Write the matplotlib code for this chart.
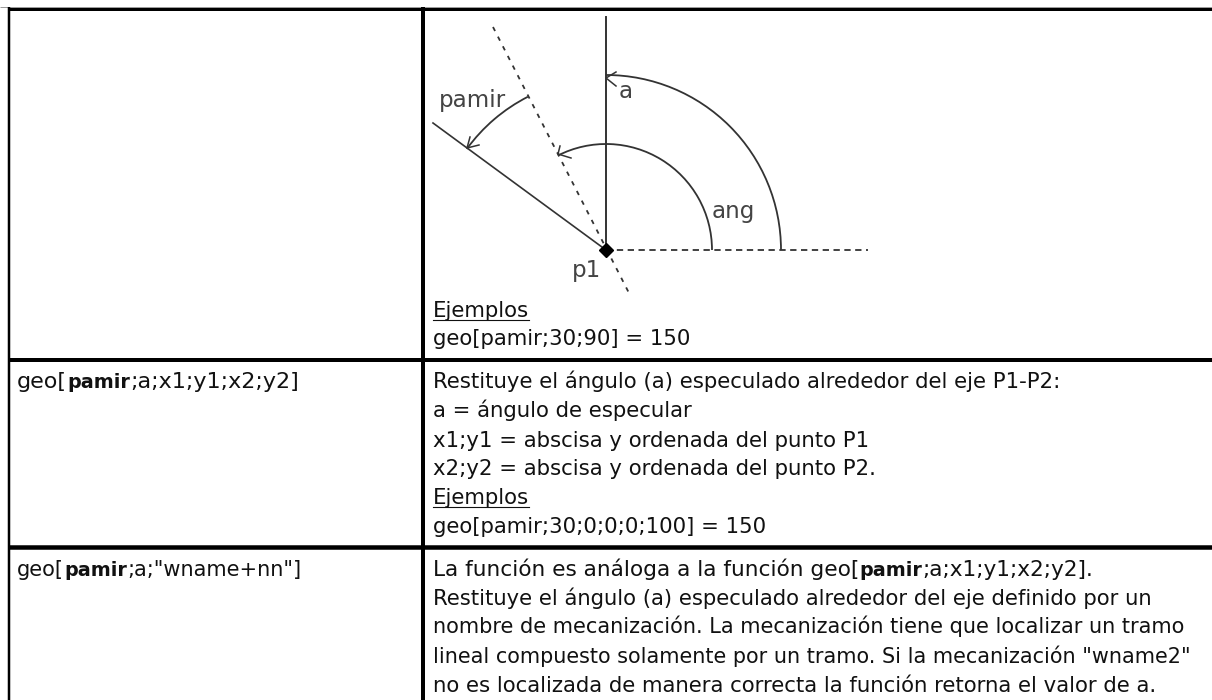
import matplotlib
matplotlib.use('Agg')
import matplotlib.pyplot as plt
from matplotlib.patches import Arc

# table grid, in pixels
h_rules = [(8.5, 3), (360, 4), (546.5, 4.5)]
v_rules = [(9, 2.5), (423, 4)]

# left column cells: baseline y, (text, bold) runs, size factor for the regular runs
left_cells = [
    (388, [('geo[', False), ('pamir', True), (';a;x1;y1;x2;y2]', False)], 1.05),
    (576, [('geo[', False), ('pamir', True), (';a;"wname+nn"]', False)], 0.98),
]

# right column lines: baseline y, runs, underlined, size factor
right_lines = [
    (317, [('Ejemplos', False)], True, 1.0),
    (345, [('geo[pamir;30;90] = 150', False)], False, 1.0),
    (388, [('Restituye el ángulo (a) especulado alrededor del eje P1-P2:', False)], False, 1.0),
    (417, [('a = ángulo de especular', False)], False, 1.0),
    (447, [('x1;y1 = abscisa y ordenada del punto P1', False)], False, 1.0),
    (475, [('x2;y2 = abscisa y ordenada del punto P2.', False)], False, 1.0),
    (504, [('Ejemplos', False)], True, 1.0),
    (533, [('geo[pamir;30;0;0;0;100] = 150', False)], False, 1.0),
    (576, [('La función es análoga a la función geo[', False), ('pamir', True), (';a;x1;y1;x2;y2].', False)], False, 1.02),
    (605, [('Restituye el ángulo (a) especulado alrededor del eje definido por un', False)], False, 0.992),
    (633, [('nombre de mecanización. La mecanización tiene que localizar un tramo', False)], False, 0.982),
    (663, [('lineal compuesto solamente por un tramo. Si la mecanización "wname2"', False)], False, 0.979),
    (692, [('no es localizada de manera correcta la función retorna el valor de a.', False)], False, 1.0),
]

# diagram
p1 = (606, 250)
arcs = [(175, 270, 360), (106, 243, 360), (172, 216, 243)]
diagram_labels = [('pamir', 439, 107), ('a', 619, 98), ('ang', 712, 218), ('p1', 572, 277)]

TEXT_SIZE = 15.3

fig = plt.figure(figsize=(12.12, 7.0), dpi=100)
ax = fig.add_axes([0, 0, 1, 1])
ax.set_xlim(0, 1212)
ax.set_ylim(700, 0)
ax.axis('off')

# thin grey edge above the top rule
ax.plot([0, 1212], [6.5, 6.5], color='#999999', lw=0.7, solid_capstyle='butt')
for y, lw in h_rules:
    ax.plot([8, 1212], [y, y], color='black', lw=lw * 0.72, solid_capstyle='butt')
for x, lw in v_rules:
    ax.plot([x, x], [7, 700], color='black', lw=lw * 0.72, solid_capstyle='butt')

renderer = fig.canvas.get_renderer()


def draw_runs(x, y, runs, factor=1.0, underline=False):
    start = x
    for s, bold in runs:
        size = TEXT_SIZE * 0.9 if bold else TEXT_SIZE * factor
        t = ax.text(x, y, s, fontsize=size, color='#111111', va='baseline', ha='left',
                    family='DejaVu Sans', fontweight='bold' if bold else 'normal')
        x += t.get_window_extent(renderer).width
    if underline:
        ax.plot([start, x], [y + 2.5, y + 2.5], color='#111111', lw=0.8)


for y, runs, factor in left_cells:
    draw_runs(17, y, runs, factor)
for y, runs, ul, factor in right_lines:
    draw_runs(433, y, runs, factor, underline=ul)

# lines of the sketch
c = '#333333'
ax.plot([606, 606], [17, 250], color=c, lw=1.4)
ax.plot([433, 606], [123, 250], color=c, lw=1.2)
ax.plot([606, 868], [249.5, 249.5], color=c, lw=1.3, dashes=(3.5, 2.5))
ax.plot([493, 630], [27, 295], color=c, lw=1.3, dashes=(2.5, 3.5))
for r, t1, t2 in arcs:
    ax.add_patch(Arc(p1, 2 * r, 2 * r, theta1=t1, theta2=t2, color=c, lw=1.3))
ax.plot(*p1, marker='D', color='black', ms=7)

# arrow heads
ax.plot([616, 606, 616], [72, 78, 86], color=c, lw=1.1)
ax.plot([560, 558, 571], [146, 154, 158], color=c, lw=1.1)
ax.plot([470, 467, 479], [137, 148, 145], color=c, lw=1.1)

for s, x, y in diagram_labels:
    ax.text(x, y, s, fontsize=16.6, color='#444444', family='DejaVu Sans', va='baseline')

fig.savefig('out.png', dpi=100)
